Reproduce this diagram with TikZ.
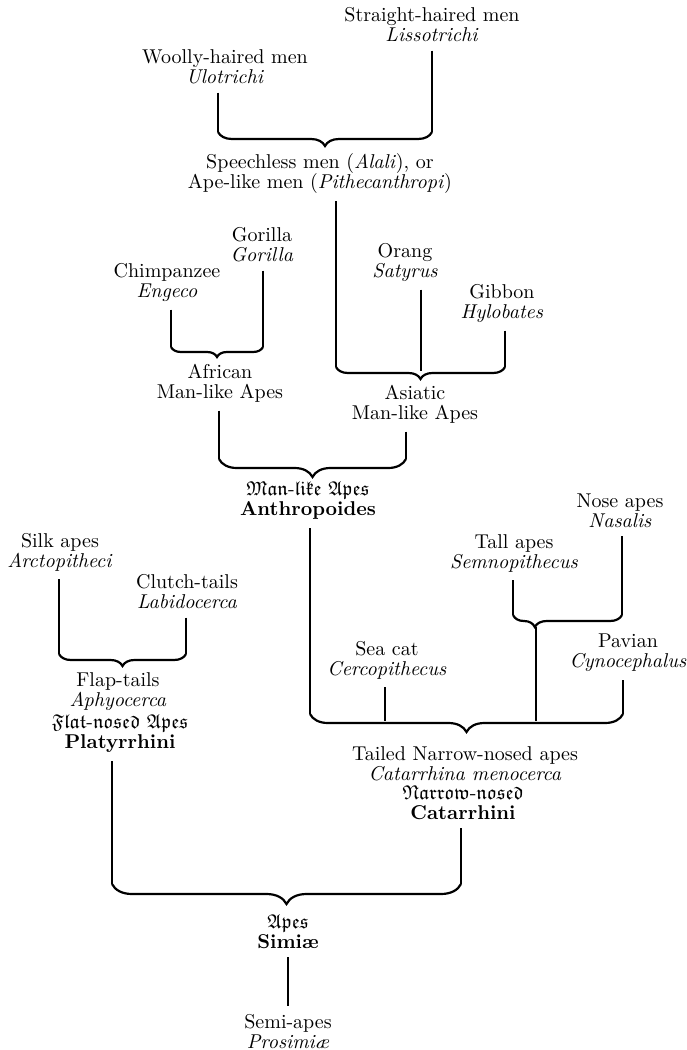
\documentclass[tikz,border=0pt]{standalone}
\usepackage{amssymb}
\usepackage{tikz}
\usetikzlibrary{positioning,decorations.pathreplacing}
\newcommand{\blk}[1]{\ensuremath{\mathfrak{#1}}}
\tikzset{
  taxon/.style={align=center,inner sep=1pt,font=\fontsize{10}{10}\selectfont},
  stem/.style={line width=0.75pt,shorten <=3pt},
  bracket/.style={line width=1.1pt,decorate,decoration={brace,mirror,amplitude=#1}},
  bracket/.default=5pt
}

\begin{document}
\begin{tikzpicture}[x=0.5pt,y=-0.5pt]
  \useasboundingbox (0,0) rectangle (686,1050);

  \node[taxon] (straight) at (432,25) {Straight-haired men\\\textit{Lissotrichi}};
  \node[taxon] (woolly) at (225,67) {Woolly-haired men\\\textit{Ulotrichi}};
  \node[taxon] (speech) at (320,173) {Speechless men (\textit{Alali}), or\\Ape-like men (\textit{Pithecanthropi})};
  \node[taxon] (gorilla) at (262,245) {Gorilla\\\textit{Gorilla}};
  \node[taxon] (chimp) at (167,282) {Chimpanzee\\\textit{Engeco}};
  \node[taxon] (orang) at (405,262) {Orang\\\textit{Satyrus}};
  \node[taxon] (gibbon) at (502,303) {Gibbon\\\textit{Hylobates}};
  \node[taxon] (african) at (220,383) {African\\Man-like Apes};
  \node[taxon] (asiatic) at (415,404) {Asiatic\\Man-like Apes};
  \node[taxon] (manlike) at (308,501) {\blk{Man}-\blk{like} \blk{Apes}\\\textbf{Anthropoides}};
  \node[taxon] (silk) at (60,552) {Silk apes\\\textit{Arctopitheci}};
  \node[taxon] (clutch) at (187,592) {Clutch-tails\\\textit{Labidocerca}};
  \node[taxon] (flap) at (118,692) {Flap-tails\\\textit{Aphyocerca}};
  \node[taxon] (platy) at (120,734) {\blk{Flat}-\blk{nosed} \blk{Apes}\\\textbf{Platyrrhini}};
  \node[taxon] (nose) at (620,511) {Nose apes\\\textit{Nasalis}};
  \node[taxon] (tall) at (514,553) {Tall apes\\\textit{Semnopithecus}};
  \node[taxon] (seacat) at (387,660) {Sea cat\\\textit{Cercopithecus}};
  \node[taxon] (pavian) at (628,653) {Pavian\\\textit{Cynocephalus}};
  \node[taxon] (tailed) at (465,764) {Tailed Narrow-nosed apes\\\textit{Catarrhina menocerca}};
  \node[taxon] (catarr) at (463,803) {\blk{Narrow}-\blk{nosed}\\\textbf{Catarrhini}};
  \node[taxon] (simiae) at (288,932) {\blk{Apes}\\\textbf{Simi\ae}};
  \node[taxon] (semi) at (288,1032) {Semi-apes\\\textit{Prosimi\ae}};

  \coordinate (hL) at (218,132);
  \coordinate (hR) at (432,132);
  \coordinate (fL) at (171,347);
  \coordinate (fR) at (263,347);
  \coordinate (aL) at (336,367);
  \coordinate (aM) at (421,371);
  \coordinate (aR) at (505,367);
  \coordinate (mL) at (219,459);
  \coordinate (mR) at (406,459);
  \coordinate (sL) at (59,654);
  \coordinate (sR) at (186,654);
  \coordinate (nL) at (513,615);
  \coordinate (nR) at (622,615);
  \coordinate (nT) at (536,627);
  \coordinate (tL) at (310,714);
  \coordinate (tM) at (536,721);
  \coordinate (tC) at (385,721);
  \coordinate (tR) at (623,714);
  \coordinate (zL) at (112,884);
  \coordinate (zR) at (461,884);

  \draw[stem] (hL |- woolly.south) -- (hL);
  \draw[stem] (hR |- straight.south) -- (hR);
  \draw[bracket=7pt] (hL) -- (hR);

  \draw[stem] (aL |- speech.south) -- (aL);
  \draw[stem] (fL |- chimp.south) -- (fL);
  \draw[stem] (fR |- gorilla.south) -- (fR);
  \draw[bracket=5pt] (fL) -- (fR);
  \draw[stem] (aM |- orang.south) -- (aM);
  \draw[stem] (aR |- gibbon.south) -- (aR);
  \draw[bracket=6pt] (aL) -- (aR);

  \draw[stem] (mL |- african.south) -- (mL);
  \draw[stem] (mR |- asiatic.south) -- (mR);
  \draw[bracket=9pt] (mL) -- (mR);

  \draw[stem] (sL |- silk.south) -- (sL);
  \draw[stem] (sR |- clutch.south) -- (sR);
  \draw[bracket=6pt] (sL) -- (sR);

  \draw[stem] (nL |- tall.south) -- (nL);
  \draw[stem] (nR |- nose.south) -- (nR);
  \draw[bracket=6pt,decoration={aspect=0.2}] (nL) -- (nR);
  \draw[stem,shorten <=0pt] (nT) -- (tM);
  \draw[stem] (tC |- seacat.south) -- (tC);
  \draw[stem] (tL |- manlike.south) -- (tL);
  \draw[stem] (tR |- pavian.south) -- (tR);
  \draw[bracket=9pt] (tL) -- (tR);

  \draw[stem] (zL |- platy.south) -- (zL);
  \draw[stem] (zR |- catarr.south) -- (zR);
  \draw[bracket=10pt] (zL) -- (zR);

  \draw[stem,shorten >=3pt] (simiae.south) -- (semi.north);
\end{tikzpicture}
\end{document}
